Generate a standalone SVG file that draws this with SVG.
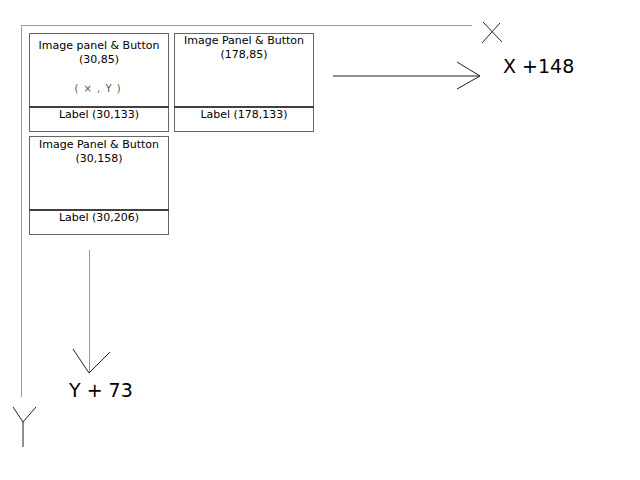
<svg xmlns="http://www.w3.org/2000/svg" width="640" height="480" viewBox="0 0 640 480">
<style>
.box{fill:#fff;stroke:#666;stroke-width:1}
.div{stroke:#000;stroke-width:1.5}
.t{font-family:"DejaVu Sans",Verdana,sans-serif;font-size:11px;fill:#000;text-anchor:middle}
.big{font-family:"DejaVu Sans",Verdana,sans-serif;font-size:19px;fill:#000}
.axis{stroke:#999;stroke-width:1;fill:none}
.pen{stroke:#222;stroke-width:1;fill:none}
</style>
<rect width="640" height="480" fill="#fff"/>
<g id="axes">
<path class="axis" d="M21.5 25.5H472M21.5 25.5V397"/>
<path class="pen" d="M483 22L502 42M500 23L482 43"/>
<path class="pen" d="M13 407L23 422L36 407M23 422V447"/>
</g>
<g id="node1">
<rect class="box" x="29.5" y="33.5" width="139" height="98"/>
<line class="div" x1="29.5" y1="107" x2="168.5" y2="107"/>
<text class="t" x="99" y="49">Image panel &amp; Button</text>
<text class="t" x="99" y="63">(30,85)</text>
<text class="t" x="98" y="92" style="font-size:10px;fill:#555;letter-spacing:1px">( × , Y )</text>
<text class="t" x="99" y="118">Label (30,133)</text>
</g>
<g id="node2">
<rect class="box" x="174.5" y="33.5" width="139" height="98"/>
<line class="div" x1="174.5" y1="107" x2="313.5" y2="107"/>
<text class="t" x="244" y="44">Image Panel &amp; Button</text>
<text class="t" x="244" y="58">(178,85)</text>
<text class="t" x="244" y="118">Label (178,133)</text>
</g>
<g id="node3">
<rect class="box" x="29.5" y="136.5" width="139" height="98"/>
<line class="div" x1="29.5" y1="210" x2="168.5" y2="210"/>
<text class="t" x="99" y="148">Image Panel &amp; Button</text>
<text class="t" x="99" y="162">(30,158)</text>
<text class="t" x="99" y="221">Label (30,206)</text>
</g>
<g id="connectors">
<path class="pen" d="M333 76H480M457 62L480 76L457 89"/>
<path class="axis" d="M89.5 250V373"/>
<path class="pen" d="M73 349L89 373L110 352"/>
</g>
<text class="big" x="503" y="73">X +148</text>
<text class="big" x="69" y="397">Y + 73</text>
</svg>
